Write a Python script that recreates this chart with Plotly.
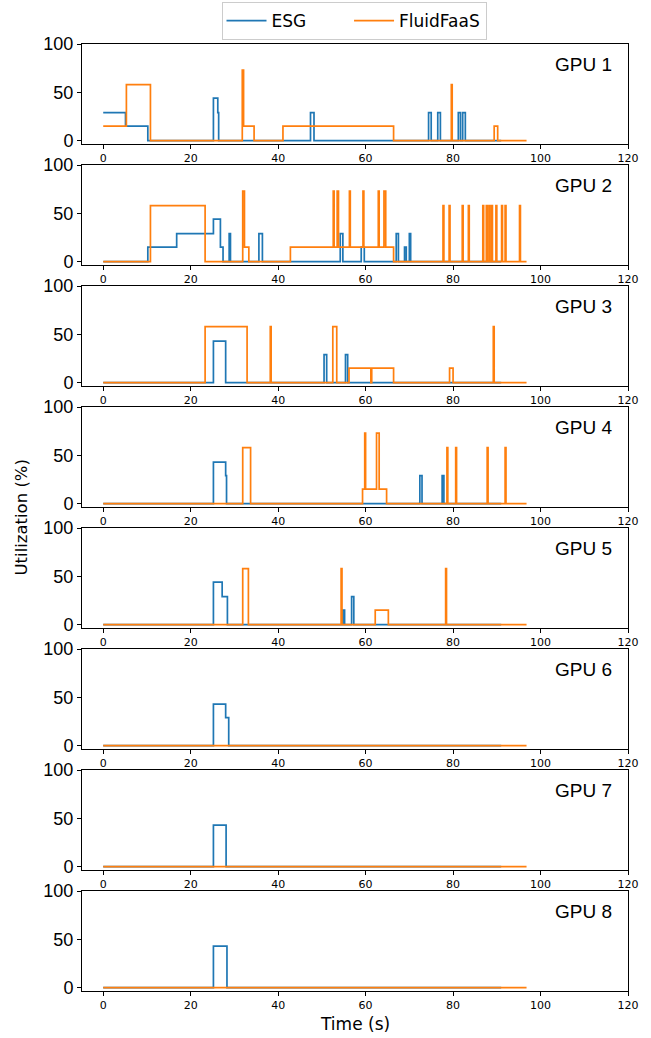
import plotly.graph_objects as go

# ---------------- data (time in s, utilization in %) ; step series ----------------
gpu_labels = ["GPU 1", "GPU 2", "GPU 3", "GPU 4", "GPU 5", "GPU 6", "GPU 7", "GPU 8"]
series_names = ["ESG", "FluidFaaS"]
x_ticks = [0, 20, 40, 60, 80, 100, 120]
y_ticks = [0, 50, 100]

gpu1_esg_t = [0, 5.1, 10.2, 25.2, 26.2, 26.4, 47.4, 48.2, 74.4, 75.0, 76.5, 77.1, 81.2, 81.7, 82.2, 82.8, 91]
gpu1_esg_v = [29, 15, 0, 44, 29, 0, 29, 0, 29, 0, 29, 0, 29, 0, 29, 0, 0]
gpu1_ffs_t = [0, 5.3, 10.8, 31.8, 32.1, 34.5, 41.1, 66.4, 79.6, 79.8, 89.4, 90.2, 96.8]
gpu1_ffs_v = [15, 58, 0, 73, 15, 0, 15, 0, 58, 0, 15, 0, 0]

gpu2_esg_t = [0, 10.2, 16.8, 25.2, 26.8, 27.4, 28.8, 29.1, 35.6, 36.4, 54.2, 54.8, 59.0, 59.7,
              67.0, 67.5, 68.9, 69.3, 70.0, 70.3, 91]
gpu2_esg_v = [0, 15, 29, 44, 15, 0, 29, 0, 29, 0, 29, 0, 15, 0, 29, 0, 15, 0, 29, 0, 0]
gpu2_ffs_t = [0, 10.8, 23.3, 31.9, 32.3, 33.3, 42.8, 52.6, 52.8, 53.5, 53.8, 56.3, 56.5,
              59.4, 59.6, 62.9, 63.1, 64.2, 64.6, 66.4,
              77.7, 77.9, 79.1, 79.3, 82.1, 82.3, 83.5, 83.7, 86.8, 87.0, 87.6, 87.8,
              88.2, 88.4, 88.8, 89.0, 89.8, 90.0, 91.1, 91.3, 91.9, 92.1, 95.2, 95.4, 96.8]
gpu2_ffs_v = [0, 58, 0, 73, 15, 0, 15, 73, 15, 73, 15, 73, 15,
              73, 15, 73, 15, 73, 15, 0,
              58, 0, 58, 0, 58, 0, 58, 0, 58, 0, 58, 0,
              58, 0, 58, 0, 58, 0, 58, 0, 58, 0, 58, 0, 0]

gpu3_esg_t = [0, 25.2, 28.0, 50.5, 51.1, 55.4, 55.9, 91]
gpu3_esg_v = [0, 43, 0, 29, 0, 29, 0, 0]
gpu3_ffs_t = [0, 23.3, 32.9, 38.2, 38.4, 52.5, 53.4, 56.2, 61.2, 61.4, 66.4, 79.2, 80.0, 89.2, 89.4, 96.8]
gpu3_ffs_v = [0, 58, 0, 58, 0, 58, 0, 15, 0, 15, 0, 15, 0, 58, 0, 0]

gpu4_esg_t = [0, 25.2, 28.0, 28.2, 72.4, 72.9, 77.5, 77.9, 91]
gpu4_esg_v = [0, 43, 29, 0, 29, 0, 29, 0, 0]
gpu4_ffs_t = [0, 31.9, 33.7, 59.3, 59.8, 60.0, 62.5, 63.1, 64.8, 78.6, 78.8, 80.6, 80.8,
              87.8, 88.0, 91.9, 92.1, 96.8]
gpu4_ffs_v = [0, 58, 0, 15, 73, 15, 73, 15, 0, 58, 0, 58, 0, 58, 0, 58, 0, 0]

gpu5_esg_t = [0, 25.2, 27.2, 28.4, 54.8, 55.2, 56.8, 57.3, 91]
gpu5_esg_v = [0, 44, 29, 0, 15, 0, 29, 0, 0]
gpu5_ffs_t = [0, 31.9, 33.2, 54.4, 54.6, 62.2, 65.2, 78.3, 78.5, 96.8]
gpu5_ffs_v = [0, 58, 0, 58, 0, 15, 0, 58, 0, 0]

gpu6_esg_t = [0, 25.2, 28.0, 28.7, 91]
gpu6_esg_v = [0, 43, 29, 0, 0]
gpu6_ffs_t = [0, 96.8]
gpu6_ffs_v = [0, 0]

gpu7_esg_t = [0, 25.2, 28.1, 91]
gpu7_esg_v = [0, 43, 0, 0]
gpu7_ffs_t = [0, 96.8]
gpu7_ffs_v = [0, 0]

gpu8_esg_t = [0, 25.2, 28.3, 91]
gpu8_esg_v = [0, 43, 0, 0]
gpu8_ffs_t = [0, 96.8]
gpu8_ffs_v = [0, 0]

panels = [
    (gpu1_esg_t, gpu1_esg_v, gpu1_ffs_t, gpu1_ffs_v),
    (gpu2_esg_t, gpu2_esg_v, gpu2_ffs_t, gpu2_ffs_v),
    (gpu3_esg_t, gpu3_esg_v, gpu3_ffs_t, gpu3_ffs_v),
    (gpu4_esg_t, gpu4_esg_v, gpu4_ffs_t, gpu4_ffs_v),
    (gpu5_esg_t, gpu5_esg_v, gpu5_ffs_t, gpu5_ffs_v),
    (gpu6_esg_t, gpu6_esg_v, gpu6_ffs_t, gpu6_ffs_v),
    (gpu7_esg_t, gpu7_esg_v, gpu7_ffs_t, gpu7_ffs_v),
    (gpu8_esg_t, gpu8_esg_v, gpu8_ffs_t, gpu8_ffs_v),
]

# ---------------- layout geometry ----------------
W, H = 651, 1038
M_L, M_R, M_T, M_B = 82, 23, 44, 47
plot_h = H - M_T - M_B
plot_w = W - M_L - M_R
panel_h, gap = 100, 21

BLUE, ORANGE = "#1f77b4", "#ff7f0e"
SANS = "Liberation Sans, Arial, sans-serif"
DJV = "DejaVu Sans, sans-serif"
PAD = "\u00a0" * 7   # extra spacing after the first legend entry

fig = go.Figure()
annotations = []
layout = {}
for i, (et, ev, ft, fv) in enumerate(panels):
    s = "" if i == 0 else str(i + 1)
    top_px = M_T + i * (panel_h + gap)
    bot_px = top_px + panel_h
    d1 = 1 - (top_px - M_T) / plot_h
    d0 = 1 - (bot_px - M_T) / plot_h
    fig.add_trace(go.Scatter(x=et, y=ev, mode="lines", line_shape="hv",
                             line=dict(color=BLUE, width=1.7), name=series_names[0] + PAD,
                             legendgroup="esg", showlegend=(i == 0),
                             xaxis="x" + s, yaxis="y" + s))
    fig.add_trace(go.Scatter(x=ft, y=fv, mode="lines", line_shape="hv",
                             line=dict(color=ORANGE, width=1.7), name=series_names[1],
                             legendgroup="ffs", showlegend=(i == 0),
                             xaxis="x" + s, yaxis="y" + s))
    layout["xaxis" + s] = dict(
        domain=[0, 1], anchor="y" + s, range=[-4.85, 120],
        tickvals=x_ticks, ticks="outside", ticklen=4, tickwidth=1, tickcolor="black",
        showline=True, mirror=True, linecolor="black", linewidth=1,
        showgrid=False, zeroline=False,
        tickfont=dict(family=DJV, size=11, color="black"),
    )
    layout["yaxis" + s] = dict(
        domain=[d0, d1], anchor="x" + s, range=[-3.4, 100],
        tickvals=y_ticks, ticks="outside", ticklen=4, tickwidth=1, tickcolor="black",
        showline=True, mirror=True, linecolor="black", linewidth=1,
        showgrid=False, zeroline=False,
        tickfont=dict(family=SANS, size=18, color="black"),
    )
    annotations.append(dict(
        text=gpu_labels[i], xref="x" + s + " domain", yref="y" + s + " domain",
        x=0.975, y=0.8, xanchor="right", yanchor="middle", showarrow=False,
        font=dict(family=SANS, size=19, color="black"),
    ))

annotations.append(dict(text="Utilization (%)", xref="paper", yref="paper",
                        x=-(M_L - 21) / plot_w, y=0.5, xanchor="center", yanchor="middle",
                        textangle=-90, showarrow=False,
                        font=dict(family=DJV, size=16.5, color="black")))
annotations.append(dict(text="Time (s)", xref="paper", yref="paper",
                        x=0.5, y=-(1024 - (H - M_B)) / plot_h, xanchor="center",
                        yanchor="middle", showarrow=False,
                        font=dict(family=DJV, size=17, color="black")))

fig.update_layout(
    width=W, height=H,
    margin=dict(l=M_L, r=M_R, t=M_T, b=M_B, autoexpand=False),
    paper_bgcolor="white", plot_bgcolor="white",
    annotations=annotations,
    legend=dict(orientation="h", x=(354 - M_L) / plot_w, xanchor="center",
                y=1 + (M_T - 2) / plot_h, yanchor="top",
                bordercolor="#cccccc", borderwidth=1,
                font=dict(family=DJV, size=17, color="black"),
                itemwidth=40, bgcolor="white"),
    **layout,
)

fig.write_html("out.html", config={"displayModeBar": False},
               post_script="document.body.style.margin='0px';")
